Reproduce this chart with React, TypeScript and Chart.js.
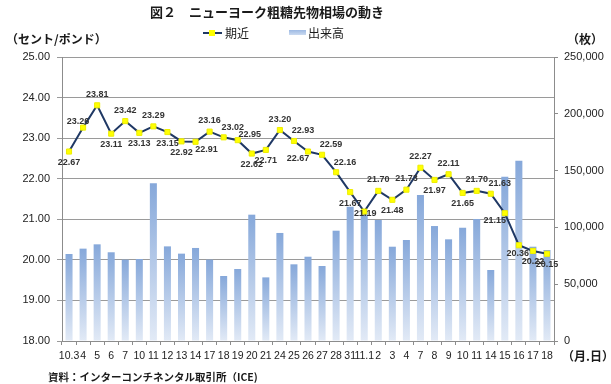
import React, { useEffect, useRef } from "react";
import { Chart, registerables } from "chart.js";
Chart.register(...registerables);

const categories = ["10.3","4","5","6","7","10","11","12","13","14","17","18","19","20","21","24","25","26","27","28","31","11.1","2","3","4","7","8","9","10","11","14","15","16","17","18"];
const prices = [22.67,23.26,23.81,23.11,23.42,23.13,23.29,23.15,22.92,22.91,23.16,23.02,22.95,22.62,22.71,23.20,22.93,22.67,22.59,22.16,21.67,21.19,21.70,21.48,21.73,22.27,21.97,22.11,21.65,21.70,21.63,21.15,20.36,20.22,20.15];
const volumes = [76600,81300,85100,78100,71600,72200,138800,83300,76900,81900,71600,57200,63400,111200,56000,95100,67500,74200,66000,97100,118200,113800,106500,83000,88900,128500,101200,89500,99700,107400,62500,144600,158700,83000,80100];
const leftTicks = [18, 25, 1];
const rightTicks = [0, 250000, 50000];
const labelPlacement = ["b","tl","t","b","t","b","t","b","b","br","t","tr","r","b","b","t","tr","bl","tr","tr","b","c","t","b","t","t","b","t","b","t","tr","bl","b3","b","b"];

const JP = '"Noto Sans CJK JP", sans-serif';
const NUM = '"Liberation Sans", Arial, sans-serif';

const offsets: Record<string, [number, number]> = {
  t: [0, -11], b: [0, 11], b3: [-1, 8], tr: [9, -10], tl: [-5, -6], br: [11, 8], bl: [-10, 7], r: [12, -6], c: [1, 2],
};

const labelPlugin = {
  id: "pointLabels",
  afterDatasetsDraw(chart: any) {
    const ctx = chart.ctx;
    const meta = chart.getDatasetMeta(0);
    ctx.save();
    ctx.font = `bold 9px ${NUM}`;
    ctx.fillStyle = "#333333";
    ctx.textAlign = "center";
    ctx.textBaseline = "middle";
    meta.data.forEach((pt: any, i: number) => {
      const [dx, dy] = offsets[labelPlacement[i]] || [0, -11];
      ctx.fillText(prices[i].toFixed(2), pt.x + dx, pt.y + dy);
    });
    ctx.restore();
  },
};

const decorPlugin = {
  id: "decor",
  afterDraw(chart: any) {
    const ctx = chart.ctx;
    ctx.save();
    ctx.fillStyle = "#1a1a1a";
    ctx.textBaseline = "middle";
    // title
    ctx.font = `bold 13px ${JP}`;
    ctx.textAlign = "center";
    ctx.fillText("図２　ニューヨーク粗糖先物相場の動き", 267, 12);
    // legend
    ctx.strokeStyle = "#1F3864";
    ctx.lineWidth = 2;
    ctx.beginPath();
    ctx.moveTo(203, 33);
    ctx.lineTo(222, 33);
    ctx.stroke();
    ctx.fillStyle = "#FFFF00";
    ctx.fillRect(209, 30, 6, 6);
    ctx.fillStyle = "#1a1a1a";
    ctx.font = `12px ${JP}`;
    ctx.textAlign = "left";
    ctx.fillText("期近", 225, 33);
    const g = ctx.createLinearGradient(0, 30, 0, 36);
    g.addColorStop(0, "#9DB9E3");
    g.addColorStop(1, "#D3E0F3");
    ctx.fillStyle = g;
    ctx.fillRect(289, 30, 17, 5);
    ctx.fillStyle = "#1a1a1a";
    ctx.fillText("出来高", 308, 33);
    // axis titles
    ctx.font = `bold 12px ${JP}`;
    ctx.textAlign = "left";
    ctx.fillText("（セント/ポンド）", 6, 39);
    ctx.fillText("（枚）", 567, 39);
    ctx.fillText("（月.日）", 562, 356);
    // source
    ctx.font = `bold 10.5px ${JP}`;
    ctx.fillText("資料：インターコンチネンタル取引所（ICE)", 48, 377);
    ctx.restore();
  },
};

export default function App() {
  const ref = useRef<HTMLCanvasElement | null>(null);
  useEffect(() => {
    if (!ref.current) return;
    const barColor = (c: any) => {
      const chart = c.chart;
      const area = chart.chartArea;
      if (!area || c.raw == null) return "#9DB9E3";
      const yTop = chart.scales.y2.getPixelForValue(c.raw);
      const g = chart.ctx.createLinearGradient(0, yTop, 0, area.bottom);
      g.addColorStop(0, "#86A8DA");
      g.addColorStop(1, "#E2EAF6");
      return g;
    };
    const chart = new Chart(ref.current, {
      type: "bar",
      data: {
        labels: categories,
        datasets: [
          {
            type: "line",
            label: "期近",
            data: prices,
            yAxisID: "y",
            borderColor: "#1F3864",
            borderWidth: 2,
            pointStyle: "rect",
            pointRadius: 3.6,
            pointBackgroundColor: "#FFFF00",
            pointBorderColor: "#EEEE00",
            pointBorderWidth: 1,
            tension: 0,
            order: 0,
          } as any,
          {
            type: "bar",
            label: "出来高",
            data: volumes,
            yAxisID: "y2",
            backgroundColor: barColor,
            barPercentage: 0.5,
            categoryPercentage: 1,
            order: 1,
          } as any,
        ],
      },
      options: {
        responsive: false,
        animation: false,
        layout: { padding: { top: 57, left: 0, right: 0, bottom: 0 } },
        plugins: { legend: { display: false }, title: { display: false }, tooltip: { enabled: false } },
        scales: {
          x: {
            offset: true,
            grid: { offset: true, drawOnChartArea: false, drawTicks: true, tickLength: 4, color: "#8c8c8c" },
            border: { color: "#8c8c8c" },
            ticks: { autoSkip: false, maxRotation: 0, minRotation: 0, padding: 5, color: "#222", font: { size: 10.5, family: NUM } },
            afterFit: (s: any) => { s.height = 43; },
          },
          y: {
            position: "left",
            min: leftTicks[0],
            max: leftTicks[1],
            ticks: { stepSize: leftTicks[2], padding: 7, color: "#222", font: { size: 11, family: NUM }, callback: (v: any) => Number(v).toFixed(2) },
            grid: { color: "#9a9a9a", tickLength: 5 },
            border: { color: "#8c8c8c" },
            afterFit: (s: any) => { s.width = 62; },
          },
          y2: {
            position: "right",
            min: rightTicks[0],
            max: rightTicks[1],
            ticks: { stepSize: rightTicks[2], padding: 6, color: "#222", font: { size: 11, family: NUM }, callback: (v: any) => Number(v).toLocaleString("en-US") },
            grid: { drawOnChartArea: false, tickLength: 4, color: "#8c8c8c" },
            border: { color: "#8c8c8c" },
            afterFit: (s: any) => { s.width = 57; },
          },
        },
      } as any,
      plugins: [labelPlugin, decorPlugin],
    });
    return () => chart.destroy();
  }, []);
  return (
    <div style={{ position: "absolute", left: 0, top: 0, width: 611, height: 384, background: "#fff" }}>
      <canvas ref={ref} width={611} height={384} style={{ width: 611, height: 384 }} />
    </div>
  );
}
